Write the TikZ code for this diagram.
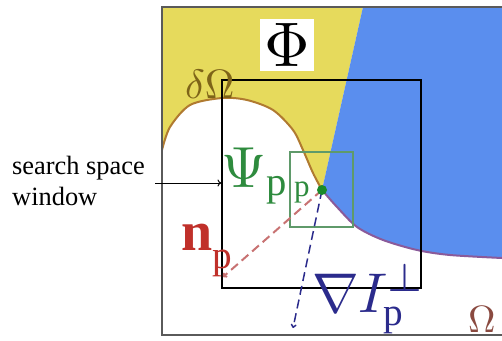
\documentclass[tikz,border=0pt]{standalone}
\usepackage{fontspec}
\setmainfont{Liberation Serif}
\usetikzlibrary{arrows.meta}
\definecolor{yel}{HTML}{E6DA5C}
\definecolor{blu}{HTML}{5A8EEE}
\definecolor{frame}{HTML}{5A5A5A}
\definecolor{bndA}{HTML}{B07A30}
\definecolor{bndB}{HTML}{8A5A9A}
\definecolor{grn}{HTML}{2E8B3E}
\definecolor{boxg}{HTML}{5F9A6A}
\definecolor{dotg}{HTML}{1A8A2A}
\definecolor{redt}{HTML}{C0302A}
\definecolor{redd}{HTML}{C87272}
\definecolor{navy}{HTML}{2B2B8C}
\definecolor{olive}{HTML}{7E6418}
\definecolor{brn}{HTML}{8A4A40}
\tikzset{
  lbl/.style={inner sep=0, anchor=base west},
  dash arrow/.style={dashed, dash pattern=on 9pt off 5pt, -{To[length=4pt,width=6pt]}},
}
\begin{document}
\begin{tikzpicture}[x=1pt,y=-1pt]
\useasboundingbox (0,0) rectangle (502,340);
\clip (0,0) rectangle (502,340);
\fill[white] (0,0) rectangle (502,340);
% regions
\fill[yel] (162,7) -- (363,7) -- (322,190) -- plot[smooth] coordinates {(322,190) (313,173) (303,150) (293,130) (273,110) (247,100) (222,98) (190,105) (170,127) (162,150)} -- cycle;
\fill[blu] (363,7) -- (510,7) -- (510,258) -- plot[smooth] coordinates {(502,258) (450,255) (417,250) (383,240) (357,227) (337,207) (322,190)} -- cycle;
% boundary
\draw[bndA, line width=2] plot[smooth] coordinates {(322,190) (313,173) (303,150) (293,130) (273,110) (247,100) (222,98) (190,105) (170,127) (162,150)};
\draw[bndB, line width=2] plot[smooth] coordinates {(502,258) (450,255) (417,250) (383,240) (357,227) (337,207) (322,190)};
% outer frame
\draw[frame, line width=2.5] (510,7) -- (162,7) -- (162,335) -- (510,335);
% Phi
\node[fill=white, minimum width=54, minimum height=52, inner sep=0] (phi) at (287,45) {\scalebox{6.3}{$\Phi$}};
% windows
\node[draw=black, line width=1.1, minimum width=199, minimum height=208, inner sep=0] (win) at (321.5,184) {};
\node[draw=boxg, line width=1.5, minimum width=63, minimum height=75, inner sep=0] (gbox) at (321.5,189.5) {};
% vectors
\coordinate (nend) at (223,277);
\coordinate (gend) at (293,328);
\draw[redd, line width=2, dash arrow] (322,190) -- (nend);
\draw[navy, line width=1.5, dash arrow] (322,190) -- (gend);
\node[circle, fill=dotg, minimum size=10, inner sep=0] (p) at (322,190) {};
% labels
\node[lbl, text=olive] (dom) at (185,98) {\scalebox{4.1}{$\delta\Omega$}};
\node[lbl, text=grn] (psi) at (221,187) {\scalebox{5.8}{$\Psi_{\mathrm{p}}$}};
\node[lbl, text=grn] (pl) at (294,196) {\scalebox{3.1}{$\mathrm{p}$}};
\node[lbl, text=redt] (np) at (181,250) {\scalebox{5.6}{$\mathbf{n}_{\raisebox{-1.8pt}{$\scriptstyle\mathrm{p}$}}$}};
\node[lbl, text=navy] (grad) at (312,312) {\scalebox{5.6}{$\nabla I_{\mathrm{p}}^{\perp}$}};
\node[lbl, text=brn] (om) at (468,332) {\scalebox{3.8}{$\Omega$}};
% search space label
\node[inner sep=0, anchor=west, align=left, font=\fontsize{26.4}{31}\selectfont] (txt) at (12,181) {search space\\window};
\coordinate (astart) at (155,183);
\draw[line width=1, -{To[length=4pt,width=7pt]}] (astart) -- (astart -| win.west);
\end{tikzpicture}
\end{document}
